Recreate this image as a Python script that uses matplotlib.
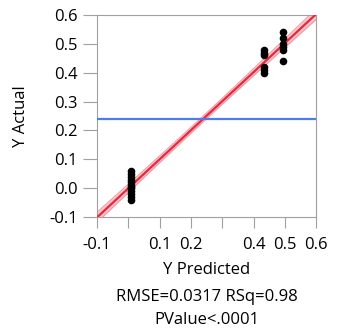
import matplotlib.pyplot as plt
import numpy as np

plt.rcParams['font.family'] = ['Open Sans', 'DejaVu Sans']

# predicted vs actual values
pred = [0.01, 0.01, 0.01, 0.01, 0.01, 0.01, 0.01, 0.01, 0.01, 0.01, 0.01, 0.01,
        0.435, 0.435, 0.435, 0.435, 0.435, 0.435,
        0.495, 0.495, 0.495, 0.495, 0.495, 0.495]
actual = [-0.04, -0.03, -0.02, -0.01, 0.0, 0.005, 0.01, 0.02, 0.03, 0.04, 0.05, 0.06,
          0.40, 0.41, 0.42, 0.46, 0.47, 0.48,
          0.44, 0.48, 0.49, 0.50, 0.52, 0.54]
tick_vals = [-0.1, 0.0, 0.1, 0.2, 0.3, 0.4, 0.5, 0.6]
xtick_labels = ['-0.1', '', '0.1', '0.2', '', '0.4', '0.5', '0.6']
ytick_labels = ['-0.1', '0.0', '0.1', '0.2', '0.3', '0.4', '0.5', '0.6']
stats_lines = ['RMSE=0.0317 RSq=0.98', 'PValue<.0001']

x = np.array(pred)
y = np.array(actual)
n = len(x)
b, a = np.polyfit(x, y, 1)
resid = y - (a + b * x)
s = np.sqrt(np.sum(resid ** 2) / (n - 2))
xx = np.linspace(-0.1, 0.6, 200)
yy = a + b * xx
se = s * np.sqrt(1 / n + (xx - x.mean()) ** 2 / np.sum((x - x.mean()) ** 2))
ci = 1.5 * se

fig = plt.figure(figsize=(3.37, 3.34), dpi=100)
ax = fig.add_axes([0.288, 0.350, 0.650, 0.605])

ax.fill_between(xx, yy - ci, yy + ci, color='#f9c4ca', lw=0, zorder=1)
ax.plot(xx, yy - ci, color='#f29aa5', lw=0.8, zorder=2)
ax.plot(xx, yy + ci, color='#f29aa5', lw=0.8, zorder=2)
ax.plot(xx, yy, color='#e8283c', lw=1.6, zorder=3)
ax.axhline(y.mean(), color='#4f7bf0', lw=1.6, zorder=3)
ax.scatter(x, y, s=30, color='black', zorder=4, linewidths=0)

ax.set_xlim(-0.1, 0.6)
ax.set_ylim(-0.1, 0.6)
ax.set_xticks(tick_vals)
ax.set_xticklabels(xtick_labels, fontsize=12)
ax.set_yticks(tick_vals)
ax.set_yticklabels(ytick_labels, fontsize=12)
ax.tick_params(axis='y', direction='out', length=10, width=0.8, color='#a0a0a0', pad=4)
ax.tick_params(axis='x', direction='out', length=8, width=0.8, color='#a0a0a0', pad=6)
for sp in ax.spines.values():
    sp.set_color('#a0a0a0')
    sp.set_linewidth(0.8)

ax.set_ylabel('Y Actual', fontsize=12)
ax.yaxis.set_label_coords(-0.31, 0.5)
fig.text(0.613, 1 - 270 / 334, 'Y Predicted', ha='center', va='center', fontsize=12)
fig.text(0.613, 1 - 297 / 334, stats_lines[0], ha='center', va='center', fontsize=12)
fig.text(0.613, 1 - 320 / 334, stats_lines[1], ha='center', va='center', fontsize=12)

plt.savefig('out.png', dpi=100)
